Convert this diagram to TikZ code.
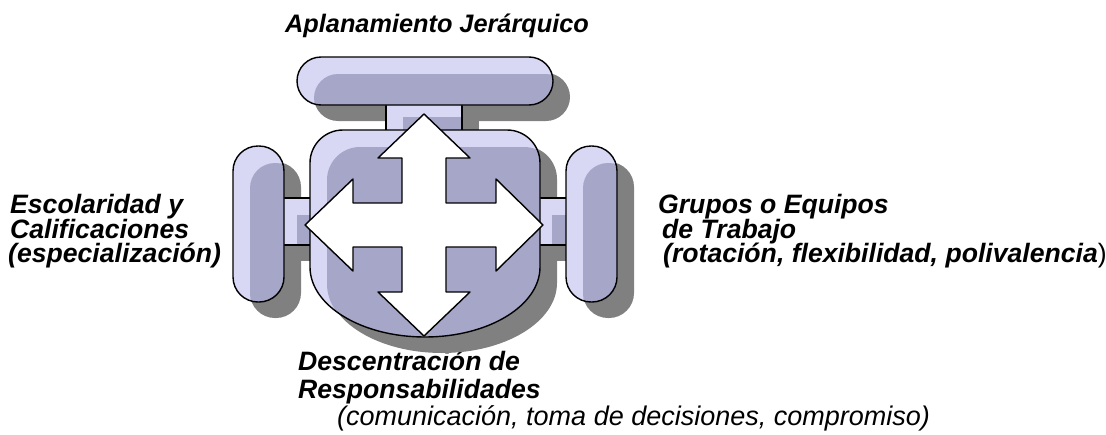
\documentclass[tikz,border=0pt]{standalone}
\usepackage{fontspec}
\setmainfont{Liberation Sans}
\definecolor{rimfill}{RGB}{216,216,244}
\definecolor{corefill}{RGB}{166,166,200}
\definecolor{dropfill}{RGB}{128,128,128}

\newcommand{\pathbar}{[rounded corners=24pt] (297,57) rectangle (553,105)}
\newcommand{\pathstem}{(386,100) rectangle (462,135)}
\newcommand{\pathlconn}{(280,198) rectangle (315,245)}
\newcommand{\pathrconn}{(535,198) rectangle (570,245)}
\newcommand{\pathlpill}{[rounded corners=25pt] (233,146) rectangle (284,302)}
\newcommand{\pathrpill}{[rounded corners=25pt] (566,146) rectangle (617,302)}
\newcommand{\pathbody}{(310,267) -- (310,163) arc (180:270:33) -- (507,130) arc (270:360:33) -- (540,267) arc (0:180:115 and 70) -- cycle}

\newcommand{\dropshadow}[1]{\fill[dropfill, shift={(17,16)}] #1;}
\newcommand{\piece}[1]{%
  \fill[rimfill] #1;
  \begin{scope}
    \clip #1;
    \fill[corefill, shift={(17,17)}] #1;
  \end{scope}
  \draw[outline] #1;}

\begin{document}
\begin{tikzpicture}[x=1pt, y=-1pt,
    outline/.style={draw=black, line width=1.4pt, line join=round},
    title/.style={anchor=base west, inner sep=0pt, font=\fontsize{25.3}{25}\selectfont\bfseries\itshape},
    caption/.style={anchor=base west, inner sep=0pt, font=\fontsize{26.6}{25}\selectfont\bfseries\itshape},
    subcaption/.style={anchor=base west, inner sep=0pt, font=\fontsize{27}{25}\selectfont\itshape}]
        \useasboundingbox (0,0) rectangle (1106,434);

        \node[title] (top) at (285,32) {Aplanamiento Jerárquico};

        \node[caption] (left1) at (10,213) {Escolaridad y};
        \node[caption] (left2) at (10,238) {Calificaciones};
        \node[caption] (left3) at (8,262) {(especialización)};

        \node[caption] (right1) at (658,213) {Grupos o Equipos};
        \node[caption] (right2) at (662,238) {de Trabajo};
        \node[caption] (right3) at (663,262) {(rotación, flexibilidad, polivalencia{\normalfont)}};

        \node[caption] (bottom1) at (298,370) {Descentración de};
        \node[caption] (bottom2) at (298,398) {Responsabilidades};
        \node[subcaption] (bottom3) at (337,425) {(comunicación, toma de decisiones, compromiso)};

        \dropshadow{\pathstem}
        \dropshadow{\pathlconn}
        \dropshadow{\pathrconn}
        \dropshadow{\pathbar}
        \dropshadow{\pathlpill}
        \dropshadow{\pathrpill}
        \dropshadow{\pathbody}

        \piece{\pathstem}
        \piece{\pathlconn}
        \piece{\pathrconn}
        \piece{\pathbar}
        \piece{\pathlpill}
        \piece{\pathrpill}
        \piece{\pathbody}

        \draw[outline, fill=white] (424,114) -- (470,158) -- (446,158) -- (446,203) -- (496,203) -- (496,179)
          -- (543,225) -- (496,271) -- (496,247) -- (446,247) -- (446,292) -- (470,292)
          -- (424,336) -- (378,292) -- (402,292) -- (402,247) -- (353,247) -- (353,271)
          -- (305,225) -- (353,179) -- (353,203) -- (402,203) -- (402,158) -- (378,158) -- cycle;
      \end{tikzpicture}
\end{document}
